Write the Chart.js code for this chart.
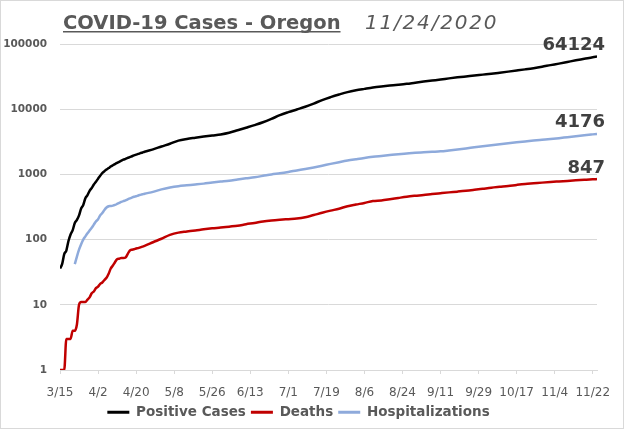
<!DOCTYPE html>
<html>
<head>
<meta charset="utf-8">
<script src="https://cdn.jsdelivr.net/npm/chart.js@4/dist/chart.umd.min.js"></script>
<style>
  html, body { margin: 0; padding: 0; background: #fff; }
  #wrap { width: 624px; height: 429px; position: relative; }
</style>
</head>
<body>
<div id="wrap"><canvas id="chCovid"></canvas></div>
<script>
/* Oregon COVID-19 cumulative counts, log scale */

var titleMain = 'COVID-19 Cases - Oregon';
var titleDate = '11/24/2020';

// x = days after 3/15
var days = [0,1,2,3,4,5,6,7,8,9,10,11,12,13,14,15,16,17,18,19,20,
  21,22,23,24,25,26,27,28,29,30,31,32,33,34,35,36,37,38,39,40,
  44,48,52,56,60,64,68,72,76,80,84,88,92,96,100,104,108,112,116,120,
  124,128,132,136,140,144,148,152,156,160,164,168,172,176,180,184,188,192,
  196,200,204,208,212,216,220,224,228,232,236,240,244,248,252,254];

var positiveCases = [36,42,60,68,95,120,140,180,200,235,300,340,430,480,560,620,700,770,860,950,1050,
  1120,1190,1250,1320,1380,1440,1500,1560,1620,1680,1730,1790,1840,1900,1960,2010,2060,2120,2170,2230,
  2420,2680,2950,3300,3500,3650,3800,3950,4100,4350,4750,5200,5700,6300,7100,8100,9000,9900,10900,12200,
  13800,15300,16800,18300,19500,20500,21500,22300,23000,23700,24500,25500,26500,27500,28500,29700,30800,31800,
  32800,33900,35000,36300,37700,39200,40800,42600,44800,47400,50000,53000,56200,59300,62700,64124];

var deaths = [1,1,1,3,3,3,4,4,5,10,11,11,11,12,13,15,16,18,19,21,22,
  24,26,30,36,40,45,50,51,52,52,53,60,68,70,71,73,74,76,78,80,
  91,103,118,128,133,138,144,149,153,158,163,172,180,190,197,202,206,210,220,238,
  258,278,298,325,345,365,390,398,415,435,455,470,483,500,515,530,544,560,
  580,602,625,645,665,690,713,730,748,765,780,795,810,825,840,847];

var hospitalizations = [null,null,null,null,null,null,null,42,55,70,85,100,112,125,138,152,170,190,205,235,255,
  285,310,325,328,332,340,352,365,378,390,400,415,428,440,455,462,475,485,495,505,
  540,590,630,660,680,700,722,750,775,800,835,870,905,950,1000,1040,1090,1150,1210,1280,
  1360,1450,1540,1630,1710,1790,1860,1920,1980,2040,2090,2140,2180,2220,2260,2330,2410,2500,
  2600,2700,2800,2900,3000,3100,3200,3300,3390,3480,3590,3720,3850,3980,4110,4176];

var tickLabels = ['3/15','4/2','4/20','5/8','5/26','6/13','7/1','7/19','8/6','8/24','9/11','9/29','10/17','11/4','11/22'];
var yTicks = [1, 10, 100, 1000, 10000, 100000];

var seriesNames = ['Positive Cases', 'Deaths', 'Hospitalizations'];
var colors = ['#000000', '#c00000', '#8eaadb'];

function points(values) {
  return days.map(function (d, i) { return {x: d, y: values[i]}; });
}

var titlePlugin = {
  id: 'titleText',
  afterDraw: function (chart) {
    var ctx = chart.ctx;
    ctx.save();
    ctx.fillStyle = '#595959';
    ctx.textAlign = 'left';
    ctx.textBaseline = 'alphabetic';
    ctx.font = 'bold 19.5px "DejaVu Sans"';
    ctx.fillText(titleMain, 63, 29);
    var w = ctx.measureText(titleMain).width;
    ctx.fillRect(63, 31, w, 1.5);
    ctx.font = 'italic 20px "DejaVu Sans"';
    ctx.letterSpacing = '1.8px';
    ctx.fillText(titleDate, 365, 29);
    ctx.letterSpacing = '0px';
    // frame
    ctx.strokeStyle = '#d9d9d9';
    ctx.lineWidth = 1;
    ctx.strokeRect(0.5, 0.5, chart.width - 1, chart.height - 1);
    ctx.restore();
  }
};

// value of the last point above the end of each line
var endLabels = {
  id: 'endLabels',
  afterDatasetsDraw: function (chart) {
    var ctx = chart.ctx;
    ctx.save();
    ctx.font = 'bold 18px "DejaVu Sans"';
    ctx.fillStyle = '#404040';
    ctx.textAlign = 'right';
    ctx.textBaseline = 'alphabetic';
    chart.data.datasets.forEach(function (ds, i) {
      var pts = chart.getDatasetMeta(i).data;
      var last = pts[pts.length - 1];
      ctx.fillText(String(ds.data[ds.data.length - 1].y), last.x + 8, last.y - 6.5);
    });
    ctx.restore();
  }
};

var chData = {
  datasets: [positiveCases, deaths, hospitalizations].map(function (vals, i) {
    return {
      label: seriesNames[i],
      data: points(vals),
      borderColor: colors[i],
      backgroundColor: colors[i],
      borderWidth: 2.5,
      pointRadius: 0,
      cubicInterpolationMode: 'monotone'
    };
  })
};

var chCovid = document.getElementById('chCovid');
if (chCovid) {
  new Chart(chCovid, {
    type: 'line',
    data: chData,
    plugins: [titlePlugin, endLabels],
    options: {
      responsive: true,
      maintainAspectRatio: false,
      animation: false,
      layout: {padding: {top: 44, right: 27, left: 0, bottom: 0}},
      plugins: {
        title: {display: false},
        tooltip: {enabled: false},
        legend: {
          position: 'bottom',
          labels: {
            boxWidth: 22,
            boxHeight: 3,
            padding: 5,
            color: '#595959',
            font: {family: 'DejaVu Sans', size: 13.5, weight: 'bold'},
            generateLabels: function (chart) {
              return Chart.defaults.plugins.legend.labels.generateLabels(chart).map(function (l) {
                l.lineWidth = 0;
                return l;
              });
            }
          }
        }
      },
      scales: {
        x: {
          type: 'linear',
          min: 0,
          max: 254,
          afterFit: function (s) { s.height = 30.5; },
          border: {color: '#d9d9d9'},
          grid: {drawOnChartArea: false, drawTicks: true, tickLength: 4, color: '#d9d9d9'},
          ticks: {
            stepSize: 18,
            includeBounds: false,
            autoSkip: false,
            maxRotation: 0,
            padding: 12,
            color: '#595959',
            font: {family: 'DejaVu Sans', size: 12},
            callback: function (v) { return tickLabels[Math.round(v / 18)]; }
          }
        },
        y: {
          type: 'logarithmic',
          min: 1,
          max: 100000,
          afterBuildTicks: function (s) { s.ticks = yTicks.map(function (v) { return {value: v}; }); },
          afterFit: function (s) { s.width = 60; },
          border: {display: false},
          grid: {color: '#d9d9d9', drawTicks: false},
          ticks: {
            padding: 13,
            color: '#595959',
            font: {family: 'DejaVu Sans', size: 10.5, weight: 'bold'},
            callback: function (v) { return String(v); }
          }
        }
      }
    }
  });
}
</script>
</body>
</html>
